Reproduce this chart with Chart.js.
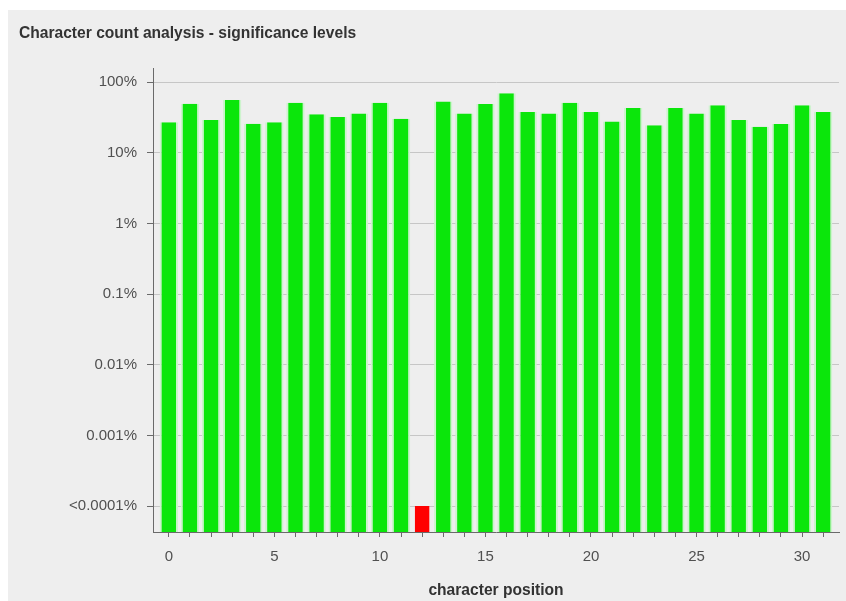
<!doctype html>
<html lang="en">
<head>
<meta charset="utf-8">
<title>Character count analysis</title>
<script src="https://cdn.jsdelivr.net/npm/chart.js"></script>
<style>
  html,body{margin:0;padding:0;background:#fff}
  #panel{position:absolute;left:8px;top:10px;width:838px;height:591px;background:#eeeeee}
</style>
</head>
<body>
<div id="panel"><canvas id="chart"></canvas></div>

<script>
/* ---------- data ------------------------------------------------------ */
const positions = [0,1,2,3,4,5,6,7,8,9,10,11,12,13,14,15,
                   16,17,18,19,20,21,22,23,24,25,26,27,28,29,30,31];
// significance level in percent (0.0001 = "<0.0001%")
const sigLevels = [26.9,49.3,29.0,55.6,25.7,26.9,50.9,34.9,32.0,36.0,50.9,30.3,0.0001,53.2,36.0,48.8,
                   69.2,37.6,36.0,50.9,37.6,27.7,42.9,24.4,42.9,36.0,46.8,29.0,23.3,25.5,46.8,37.6];
const yTickValues = [0.0001,0.001,0.01,0.1,1,10,100];
const yTickLabels = ['<0.0001%','0.001%','0.01%','0.1%','1%','10%','100%'];

/* ---------- styles ---------------------------------------------------- */
const GREEN='#0be60b', RED='#ff0000', AXIS='#6a6a6a';
const tickFont={family:'"Liberation Sans", Arial, sans-serif',size:15};
const boldFont={family:'"Liberation Sans", Arial, sans-serif',size:15.6,weight:'bold'};

const ctx=document.getElementById('chart');
new Chart(ctx,{
  type:'bar',
  data:{datasets:[{
    data:positions.map((p,i)=>({x:p,y:sigLevels[i]})),
    backgroundColor:sigLevels.map(v=>v<=0.0001?RED:GREEN),
    borderColor:sigLevels.map(v=>v<=0.0001?'rgba(0,0,0,0)':'#cdf3cd'),
    borderWidth:{left:2,right:2,top:0,bottom:0},
    borderSkipped:false,
    categoryPercentage:1,
    barPercentage:0.87
  }]},
  options:{
    responsive:true,maintainAspectRatio:false,animation:false,devicePixelRatio:1,
    layout:{padding:{left:11,right:7,top:0,bottom:0}},
    plugins:{
      legend:{display:false},tooltip:{enabled:false},
      title:{display:true,text:'Character count analysis - significance levels',
             align:'start',color:'#333',font:boldFont,padding:{top:14,bottom:25.3}}
    },
    scales:{
      x:{type:'linear',min:-0.75,max:31.75,offset:false,
         afterBuildTicks:s=>{s.ticks=positions.map(v=>({value:v}));},
         afterFit:s=>{s.height=69;},
         ticks:{autoSkip:false,maxRotation:0,color:'#505050',font:tickFont,padding:11,
                callback:v=>v%5===0?String(v):''},
         grid:{offset:false,drawOnChartArea:false,drawTicks:true,tickLength:5,tickColor:AXIS},
         border:{display:true,color:AXIS,width:1},
         title:{display:true,text:'character position',color:'#333',font:boldFont,padding:{top:0,bottom:1}}
      },
      y:{type:'logarithmic',min:4.29e-5,max:158,
         afterBuildTicks:s=>{s.ticks=yTickValues.map(v=>({value:v}));},
         afterFit:s=>{s.width=134;},
         ticks:{autoSkip:false,color:'#505050',font:tickFont,padding:10,
                callback:(v,i)=>yTickLabels[i]},
         grid:{color:'#c6c6c6',drawTicks:true,tickLength:6,tickColor:AXIS},
         border:{display:true,color:AXIS,width:1}
      }
    }
  }
});
</script>
</body>
</html>
